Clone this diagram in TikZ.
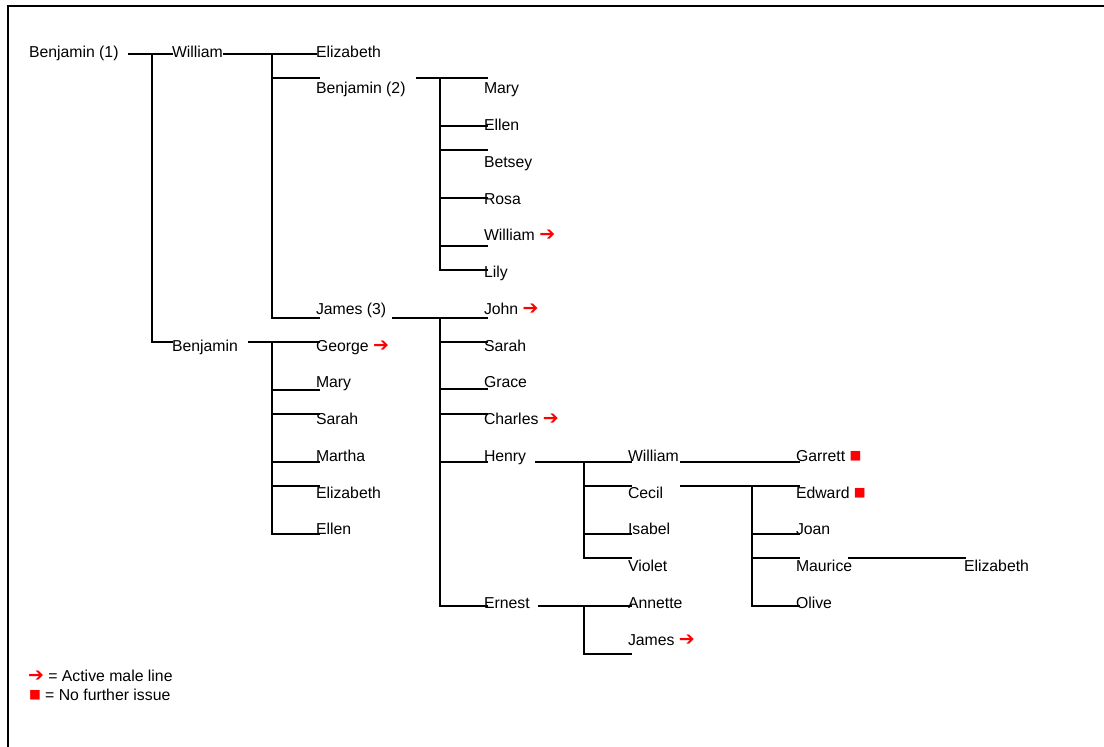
\documentclass[tikz,border=0pt]{standalone}
\usepackage{fontspec}
\setmainfont{Liberation Sans}
\newfontfamily\symfont{DejaVu Sans}
\newcommand{\redarr}{{\symfont\fontsize{19}{20}\selectfont\color{red}➔}}
\newcommand{\redsq}{\raisebox{1.5pt}{\symfont\fontsize{12.5}{14}\selectfont\color{red}■}}
\begin{document}
\begin{tikzpicture}[x=1pt,y=-1pt,
  lbl/.style={inner sep=0pt, outer sep=0pt, anchor=base west, font=\fontsize{15.8}{18}\selectfont},
  conn/.style={line width=1.9pt, black},
  frame/.style={line width=2pt, black}]
\useasboundingbox (0,0) rectangle (1104,747);
% frame (left and top only)
\coordinate (fbl) at (8,747);
\coordinate (ftl) at (8,6.3);
\coordinate (ftr) at (1104,6.3);
\draw[frame] (fbl) -- (ftl) -- (ftr);

% ---------- text nodes ----------
% column 0/1
\node[lbl] (b1)  at (29,57)      {Benjamin (1)};
\node[lbl] (w1)  at (172,57)     {William};
\node[lbl] (bj)  at (172,351)    {Benjamin};
% column 2
\node[lbl] (el1) at (316,57)     {Elizabeth};
\node[lbl] (b2)  at (316,93.75)  {Benjamin (2)};
\node[lbl] (j3)  at (316,314.25) {James (3)};
\node[lbl] (ge)  at (316,351)    {George \redarr};
\node[lbl] (ma1) at (316,387.75) {Mary};
\node[lbl] (sa1) at (316,424.5)  {Sarah};
\node[lbl] (mt)  at (316,461.25) {Martha};
\node[lbl] (el2) at (316,498)    {Elizabeth};
\node[lbl] (en1) at (316,534.75) {Ellen};
% column 3
\node[lbl] (ma2) at (484,93.75)  {Mary};
\node[lbl] (en2) at (484,130.5)  {Ellen};
\node[lbl] (bt)  at (484,167.25) {Betsey};
\node[lbl] (ro)  at (484,204)    {Rosa};
\node[lbl] (w2)  at (484,240.75) {William \redarr};
\node[lbl] (li)  at (484,277.5)  {Lily};
\node[lbl] (jo)  at (484,314.25) {John \redarr};
\node[lbl] (sa2) at (484,351)    {Sarah};
\node[lbl] (gr)  at (484,387.75) {Grace};
\node[lbl] (ch)  at (484,424.5)  {Charles \redarr};
\node[lbl] (he)  at (484,461.25) {Henry};
\node[lbl] (er)  at (484,608.25) {Ernest};
% column 4
\node[lbl] (w3)  at (628,461.25) {William};
\node[lbl] (ce)  at (628,498)    {Cecil};
\node[lbl] (is)  at (628,534.75) {Isabel};
\node[lbl] (vi)  at (628,571.5)  {Violet};
\node[lbl] (an)  at (628,608.25) {Annette};
\node[lbl] (ja)  at (628,645)    {James \redarr};
% column 5
\node[lbl] (ga)  at (796,461.25) {Garrett \redsq};
\node[lbl] (ed)  at (796,498)    {Edward \redsq};
\node[lbl] (jn)  at (796,534.75) {Joan};
\node[lbl] (mu)  at (796,571.5)  {Maurice};
\node[lbl] (ol)  at (796,608.25) {Olive};
% column 6
\node[lbl] (el3) at (964,571.5)  {Elizabeth};
% legend
\node[lbl] (lg1) at (28,681.5)   {\redarr{} = Active male line};
\node[lbl] (lg2) at (29,700)     {\redsq{} = No further issue};

% ---------- connectors ----------
% Benjamin (1)
\coordinate (b1s) at (128,54);
\coordinate (b1t) at (152,54);
\coordinate (b1b) at (152,342);
\draw[conn] (b1s) -- (b1t) -- (173,54);
\draw[conn] (b1t) -- (b1b) -- (173,342);
% William (gen 2)
\coordinate (w1s) at (223,54);
\coordinate (w1t) at (272,54);
\coordinate (w1b) at (272,318);
\draw[conn] (w1s) -- (w1t) -- (317,54);
\draw[conn] (w1t) -- (w1b) -- (320,318);
\draw[conn] (272,78) -- (320,78);
% Benjamin (gen 2)
\coordinate (bjs) at (248,342);
\coordinate (bjt) at (272,342);
\coordinate (bjb) at (272,534);
\draw[conn] (bjs) -- (bjt) -- (320,342);
\draw[conn] (bjt) -- (bjb) -- (320,534);
\foreach \yy in {390,414,462,486} \draw[conn] (272,\yy) -- (320,\yy);
% Benjamin (2)
\coordinate (b2s) at (416,78);
\coordinate (b2t) at (440,78);
\coordinate (b2b) at (440,270);
\draw[conn] (b2s) -- (b2t) -- (488,78);
\draw[conn] (b2t) -- (b2b) -- (488,270);
\foreach \yy in {126,150,198,246} \draw[conn] (440,\yy) -- (488,\yy);
% James (3)
\coordinate (j3s) at (392,318);
\coordinate (j3t) at (440,318);
\coordinate (j3b) at (440,606);
\draw[conn] (j3s) -- (j3t) -- (488,318);
\draw[conn] (j3t) -- (j3b) -- (488,606);
\foreach \yy in {342,389,414,462} \draw[conn] (440,\yy) -- (488,\yy);
% Henry
\coordinate (hes) at (535,462);
\coordinate (het) at (584,462);
\coordinate (heb) at (584,558);
\draw[conn] (hes) -- (het) -- (632,462);
\draw[conn] (het) -- (heb) -- (632,558);
\foreach \yy in {486,534} \draw[conn] (584,\yy) -- (632,\yy);
% Ernest
\coordinate (ers) at (538,606);
\coordinate (ert) at (584,606);
\coordinate (erb) at (584,654);
\draw[conn] (ers) -- (ert) -- (632,606);
\draw[conn] (ert) -- (erb) -- (632,654);
% William (gen 4)
\draw[conn] (680,462) -- (800,462);
% Cecil
\coordinate (ces) at (680,486);
\coordinate (cet) at (752,486);
\coordinate (ceb) at (752,606);
\draw[conn] (ces) -- (cet) -- (800,486);
\draw[conn] (cet) -- (ceb) -- (800,606);
\foreach \yy in {534,558} \draw[conn] (752,\yy) -- (800,\yy);
% Maurice
\draw[conn] (848,558) -- (966,558);
\end{tikzpicture}
\end{document}
